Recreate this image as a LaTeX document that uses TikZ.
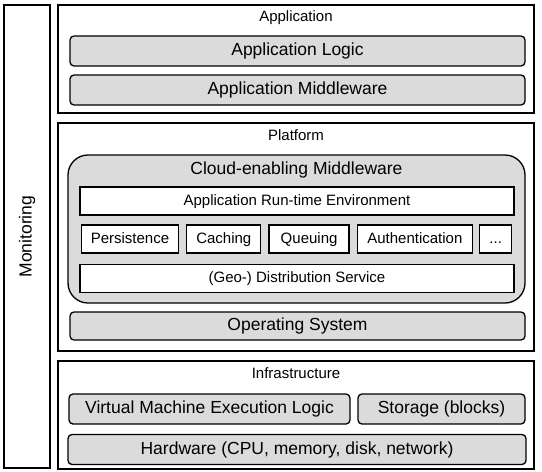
\documentclass[tikz,border=0pt]{standalone}
\usepackage{fontspec}
\setmainfont{Liberation Sans}
\colorlet{boxgray}{black!14}
\usetikzlibrary{positioning}
\newcommand{\bigtext}{\fontsize{17.5}{20}\selectfont}
\newcommand{\smalltext}{\fontsize{15}{17}\selectfont}
\tikzstyle{layer}=[draw, line width=1.6pt, inner sep=0pt]
\tikzstyle{block}=[draw, rounded corners=4pt, fill=boxgray, line width=1.3pt,
  inner sep=0pt, minimum height=30pt, text height=12.5pt, text depth=3.5pt,
  font=\bigtext]
\tikzstyle{svc}=[draw, fill=white, line width=1.3pt, inner sep=0pt,
  minimum height=28pt, text height=11pt, text depth=3pt, font=\smalltext]

\begin{document}
\begin{tikzpicture}[x=1pt, y=-1pt]
  \useasboundingbox (0,0) rectangle (542,472);

  \node[layer, minimum width=46pt, minimum height=463pt] (mon) at (27,236.5) {};
  \node[rotate=90, font=\bigtext] (monl) at (mon.center) {Monitoring};

  % application layer
  \node[layer, minimum width=476pt, minimum height=108pt] (app) at (296,59) {};
  \node[font=\smalltext] (appl) at (296,18) {Application};
  \node[block, minimum width=455pt] (logic) at (297.5,51) {Application Logic};
  \node[block, minimum width=455pt] (amw) at (297.5,90) {Application Middleware};

  % platform layer
  \node[layer, minimum width=476pt, minimum height=228pt] (plat) at (296,237) {};
  \node[font=\smalltext] (platl) at (296,135) {Platform};
  \node[draw, rounded corners=20pt, fill=boxgray, line width=1.3pt,
    minimum width=457pt, minimum height=148pt] (cloud) at (296.5,229) {};
  \node[font=\bigtext] (cloudl) at (296.5,170) {Cloud-enabling Middleware};
  \node[svc, minimum width=434pt] (rte) at (297,201) {Application Run-time Environment};
  \node[svc, minimum width=97pt] (pers) at (130,239) {Persistence};
  \node[svc, minimum width=74pt, right=7pt of pers] (cache) {Caching};
  \node[svc, minimum width=80pt, right=7pt of cache] (queue) {Queuing};
  \node[svc, minimum width=115pt, right=7pt of queue] (auth) {Authentication};
  \node[svc, minimum width=32pt, right=6pt of auth] (more) {...};
  \node[svc, minimum width=434pt] (geo) at (297,278.5) {(Geo-) Distribution Service};
  \node[block, minimum width=455pt, minimum height=28pt] (os) at (297.5,326) {Operating System};

  % infrastructure layer
  \node[layer, minimum width=476pt, minimum height=108pt] (infra) at (296,415) {};
  \node[font=\smalltext] (infral) at (296,373) {Infrastructure};
  \node[block, minimum width=281pt] (vm) at (209.5,409) {Virtual Machine Execution Logic};
  \node[block, minimum width=167pt] (store) at (441.5,409) {Storage (blocks)};
  \node[block, minimum width=458pt] (hw) at (297,449.5) {Hardware (CPU, memory, disk, network)};
\end{tikzpicture}
\end{document}
